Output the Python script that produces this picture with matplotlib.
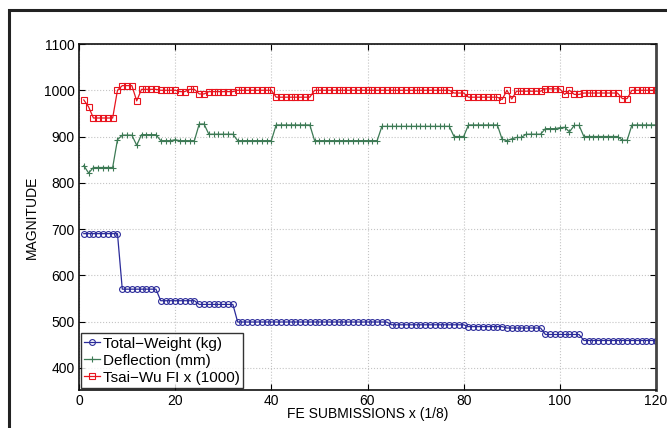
import matplotlib
matplotlib.use("Agg")
import matplotlib.pyplot as plt
from matplotlib.patches import Rectangle

plt.rcParams['font.family'] = ['Liberation Sans', 'DejaVu Sans']

submissions = list(range(1, 121))

total_weight = [
    690, 690, 690, 690, 690, 690, 690, 690,
    570, 570, 570, 570, 570, 570, 570, 570,
    545, 545, 545, 545, 545, 545, 545, 545,
    537, 537, 537, 537, 537, 537, 537, 537,
    499, 499, 499, 499, 499, 499, 499, 499, 499, 499, 499, 499, 499, 499, 499, 499,
    499, 499, 499, 499, 499, 499, 499, 499, 499, 499, 499, 499, 499, 499, 499, 499,
    493, 493, 493, 493, 493, 493, 493, 493, 493, 493, 493, 493, 493, 493, 493, 493,
    489, 489, 489, 489, 489, 489, 489, 489,
    486, 486, 486, 486, 486, 486, 486, 486,
    472, 472, 472, 472, 472, 472, 472, 472,
    459, 459, 459, 459, 459, 459, 459, 459, 459, 459, 459, 459, 459, 459, 459, 459,
]

deflection = [
    837, 821, 833, 833, 833, 833, 833, 893, 903, 903,
    903, 881, 904, 904, 904, 904, 891, 891, 891, 893,
    891, 891, 891, 891, 927, 927, 905, 905, 905, 905,
    905, 905, 891, 891, 891, 891, 891, 891, 891, 891,
    925, 925, 925, 925, 925, 925, 925, 925, 891, 891,
    891, 891, 891, 891, 891, 891, 891, 891, 891, 891,
    891, 891, 922, 922, 922, 922, 922, 922, 922, 922,
    922, 922, 922, 922, 922, 922, 922, 900, 900, 900,
    925, 925, 925, 925, 925, 925, 925, 894, 891, 895,
    898, 898, 905, 905, 905, 905, 917, 917, 917, 919,
    920, 910, 924, 924, 900, 900, 900, 900, 900, 900,
    900, 900, 892, 892, 925, 925, 925, 925, 925, 925,
]

tsai_wu = [
    979, 964, 940, 940, 940, 940, 940, 1000, 1010, 1010,
    1010, 977, 1002, 1002, 1002, 1002, 1000, 1000, 1000, 1000,
    997, 997, 1002, 1002, 992, 992, 997, 997, 997, 997,
    997, 997, 1000, 1000, 1000, 1000, 1000, 1000, 1000, 1000,
    985, 985, 985, 985, 985, 985, 985, 985, 1000, 1000,
    1000, 1000, 1000, 1000, 1000, 1000, 1000, 1000, 1000, 1000,
    1000, 1000, 1000, 1000, 1000, 1000, 1000, 1000, 1000, 1000,
    1000, 1000, 1000, 1000, 1000, 1000, 1000, 994, 994, 994,
    985, 985, 985, 985, 985, 985, 985, 980, 1000, 981,
    998, 998, 998, 998, 998, 998, 1003, 1003, 1003, 1003,
    991, 1000, 991, 991, 994, 994, 994, 994, 994, 994,
    994, 994, 982, 982, 1000, 1000, 1000, 1000, 1000, 1000,
]

x_ticks = [0, 20, 40, 60, 80, 100, 120]
y_ticks = [400, 500, 600, 700, 800, 900, 1000, 1100]

fig = plt.figure(figsize=(6.67, 4.28), dpi=100)
W, H = 667, 428
ax = fig.add_axes([79 / W, 1 - 390 / H, (656 - 79) / W, (390 - 44) / H])

blue = '#2b2b9a'
green = '#3d7a55'
red = '#e8141e'

ax.plot(submissions, total_weight, '-', color=blue, lw=0.9, marker='o',
        ms=4.2, mfc='none', mec=blue, mew=0.8, label='Total\u2212Weight (kg)')
ax.plot(submissions, deflection, '-', color=green, lw=0.9, marker='+',
        ms=5, mec=green, mew=0.8, label='Deflection (mm)')
ax.plot(submissions, tsai_wu, '-', color=red, lw=0.9, marker='s',
        ms=4, mfc='none', mec=red, mew=0.8, label='Tsai\u2212Wu FI x (1000)')

ax.set_xlim(0, 120)
ax.set_ylim(352, 1100)
ax.set_xticks(x_ticks)
ax.set_yticks(y_ticks)
ax.tick_params(direction='in', top=True, right=True, length=4, width=0.8,
               labelsize=10, pad=3)
ax.grid(True, linestyle=':', color='#c4c4c4', lw=0.8)
for s in ax.spines.values():
    s.set_linewidth(1.2)
    s.set_color('#111111')
ax.spines['right'].set_linewidth(2.0)
ax.spines['right'].set_color('#444444')

ax.set_xlabel('FE SUBMISSIONS x (1/8)', fontsize=10, labelpad=-1)
ax.set_ylabel('MAGNITUDE', fontsize=10, labelpad=4)

leg = ax.legend(loc='lower left', fontsize=11, frameon=True, fancybox=False,
                borderaxespad=0.15, handlelength=1.0, handletextpad=0.2,
                borderpad=0.2, labelspacing=0.2)
leg.get_frame().set_edgecolor('black')
leg.get_frame().set_linewidth(1.0)

# outer frame (partially visible)
fig.patches.append(Rectangle((9 / W, -0.2), 1.5, 1.2 - 10 / H,
                             transform=fig.transFigure, fill=False,
                             edgecolor='#222222', lw=2.2, clip_on=False))

fig.savefig('out.png', dpi=100)
